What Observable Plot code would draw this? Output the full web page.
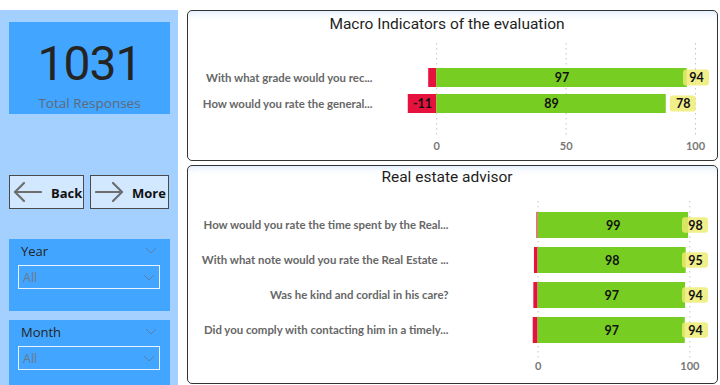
<!DOCTYPE html>
<html>
<head>
<meta charset="utf-8">
<script src="https://cdn.jsdelivr.net/npm/d3@7"></script>
<script src="https://cdn.jsdelivr.net/npm/@observablehq/plot@0.6"></script>
<style>
  html, body { margin: 0; padding: 0; }
  body { width: 720px; height: 385px; overflow: hidden; background: #fff; position: relative; font-family: Lato, "Open Sans", sans-serif; }
  .abs { position: absolute; }
  #side { left: 0; top: 10px; width: 178px; height: 375px; background: #a3d0ff; }
  #kpi { left: 9px; top: 22px; width: 161px; height: 92px; background: #42a5ff; text-align: center; }
  #kpiValue { position: absolute; left: 0; width: 161px; top: 14px; font-family: Roboto, sans-serif; font-size: 48px; line-height: 56px; color: #252423; letter-spacing: -1px; }
  #kpiLabel { position: absolute; left: 0; width: 161px; top: 72px; font-family: "Open Sans", sans-serif; font-size: 13.5px; line-height: 18px; color: #5d6a78; }
  .btn { top: 175px; height: 34px; background: #d2e8ff; border: 1.5px solid #4a4a4a; box-sizing: border-box; }
  .btn span { position: absolute; top: 8px; font-family: "Open Sans", sans-serif; font-weight: 700; font-size: 13px; color: #111; }
  .slicer { left: 9px; width: 161px; background: #42a5ff; }
  .slicer .lab { position: absolute; left: 12px; top: 3px; font-family: "Open Sans", sans-serif; font-size: 13px; color: #252423; }
  .slicer .box { position: absolute; left: 9px; top: 26px; width: 142px; height: 24px; border: 1px solid #e8f3ff; box-sizing: border-box; }
  .slicer .box span { position: absolute; left: 4px; top: 3px; font-family: "Open Sans", sans-serif; font-size: 12.5px; color: #6a7a8c; }
  .card { left: 187px; width: 531px; border: 1.5px solid #333; border-radius: 5px; box-sizing: border-box; background: #fff; box-shadow: inset 0 6px 8px -6px rgba(150,200,250,0.5); }
  .title { left: 187px; width: 520px; text-align: center; font-family: Roboto, sans-serif; font-weight: 400; font-size: 15.5px; color: #1e1e1e; }
</style>
</head>
<body>
<div id="side" class="abs"></div>
<div id="kpi" class="abs"><div id="kpiValue"></div><div id="kpiLabel"></div></div>

<div class="abs btn" style="left:9px;width:75px;">
  <svg class="abs" style="left:2px;top:5px" width="30" height="22"><g fill="none" stroke="#6e6e6e" stroke-width="2.2" stroke-linecap="round" stroke-linejoin="round"><path d="M3 11 H29"/><path d="M12 2 L3 11 L12 20"/></g></svg>
  <span style="left:41px">Back</span>
</div>
<div class="abs btn" style="left:90px;width:79px;">
  <svg class="abs" style="left:4px;top:5px" width="30" height="22"><g fill="none" stroke="#6e6e6e" stroke-width="2.2" stroke-linecap="round" stroke-linejoin="round"><path d="M1 11 H27"/><path d="M18 2 L27 11 L18 20"/></g></svg>
  <span style="left:41px">More</span>
</div>

<div class="abs slicer" style="top:239px;height:72px;">
  <div class="lab">Year</div>
  <svg class="abs" style="left:136px;top:8px" width="12" height="7"><path d="M1 1 L6 6 L11 1" fill="none" stroke="#5b7ea6" stroke-width="1"/></svg>
  <div class="box"><span>All</span>
    <svg class="abs" style="left:124px;top:8px" width="12" height="7"><path d="M1 1 L6 6 L11 1" fill="none" stroke="#5b7ea6" stroke-width="1"/></svg>
  </div>
</div>
<div class="abs slicer" style="top:320px;height:65px;">
  <div class="lab">Month</div>
  <svg class="abs" style="left:136px;top:8px" width="12" height="7"><path d="M1 1 L6 6 L11 1" fill="none" stroke="#5b7ea6" stroke-width="1"/></svg>
  <div class="box"><span>All</span>
    <svg class="abs" style="left:124px;top:8px" width="12" height="7"><path d="M1 1 L6 6 L11 1" fill="none" stroke="#5b7ea6" stroke-width="1"/></svg>
  </div>
</div>

<div class="abs card" style="top:10px;height:151px;"></div>
<div class="abs card" style="top:165px;height:219px;"></div>
<div class="abs title" style="top:15px;">Macro Indicators of the evaluation</div>
<div class="abs title" style="top:168px;">Real estate advisor</div>
<div id="chart1" class="abs" style="left:188px;top:38px;"></div>
<div id="chart2" class="abs" style="left:188px;top:196px;"></div>

<script>
// ---- data ----
const totalResponses = 1031;
const totalLabel = "Total Responses";

const macroQuestions = ["With what grade would you rec...", "How would you rate the general..."];
const macroPositive = [96.8, 88.7];
const macroNegative = [-3.1, -11];
const macroScore = [94, 78];
const macroTicks = [0, 50, 100];

const advisorQuestions = [
  "How would you rate the time spent by the Real...",
  "With what note would you rate the Real Estate ...",
  "Was he kind and cordial in his care?",
  "Did you comply with contacting him in a timely..."
];
const advisorPositive = [99.2, 97.6, 97.2, 97.0];
const advisorNegative = [-0.8, -2.4, -2.8, -3.2];
const advisorScore = [98, 95, 94, 94];
const advisorTicks = [0, 100];

document.getElementById("kpiValue").textContent = totalResponses;
document.getElementById("kpiLabel").textContent = totalLabel;

function drawChart(cfg) {
  const {questions, pos, neg, score, ticks, width, height, marginLeft, marginRight,
         marginTop, marginBottom, domain, tickPadding, labelInset, paddingInner, paddingOuter, align} = cfg;
  const rows = questions.map((q, i) => ({q, pos: pos[i], neg: neg[i], score: score[i]}));
  const xs = d3.scaleLinear(domain, [marginLeft, width - marginRight]);
  const right = width - marginRight;
  const boxW = 26, gap = 4;
  rows.forEach(r => {
    const left = Math.min(xs(r.pos) + gap, right - boxW);
    r.b1 = xs.invert(left);
    r.b2 = xs.invert(left + boxW);
  });
  return Plot.plot({
    width, height, marginLeft, marginRight, marginTop, marginBottom,
    style: {fontFamily: "Lato, 'Open Sans', sans-serif", background: "transparent", overflow: "visible", color: "#6b6b6b"},
    x: {domain},
    y: {domain: questions, paddingInner, paddingOuter, align},
    marks: [
      Plot.ruleX(ticks, {stroke: "#c4c4c4", strokeDasharray: "1.5,3.5", strokeWidth: 1}),
      Plot.barX(rows, {y: "q", x1: 0, x2: "neg", fill: "#e5123d"}),
      Plot.barX(rows, {y: "q", x1: 0, x2: "pos", fill: "#78cd22"}),
      Plot.barX(rows, {y: "q", x1: "b1", x2: "b2", fill: "#eeec70", fillOpacity: 0.82, rx: 3, insetTop: labelInset, insetBottom: labelInset}),
      Plot.text(rows, {y: "q", x: d => d.pos / 2, text: d => Math.round(d.pos), fontWeight: "bold", fontSize: 12.5, fill: "#111"}),
      Plot.text(rows.filter(d => d.neg <= -8), {y: "q", x: d => d.neg / 2, text: d => Math.round(d.neg), fontWeight: "bold", fontSize: 12.5, fill: "#111"}),
      Plot.text(rows, {y: "q", x: d => (d.b1 + d.b2) / 2, text: "score", fontWeight: "bold", fontSize: 12.5, fill: "#111"}),
      Plot.axisY({tickSize: 0, tickPadding, fontWeight: "bold", fontSize: 11.4, fill: "#676767", label: null}),
      Plot.axisX({ticks, tickSize: 0, tickPadding: 4, fontWeight: "bold", fontSize: 11, fill: "#777", label: null})
    ]
  });
}

document.getElementById("chart1").append(drawChart({
  questions: macroQuestions, pos: macroPositive, neg: macroNegative, score: macroScore, ticks: macroTicks,
  width: 529, height: 120, marginLeft: 212, marginRight: 8, marginTop: 5, marginBottom: 20,
  domain: [-14, 105.4], tickPadding: 28, labelInset: 1.5, paddingInner: 0.26, paddingOuter: 0.936, align: 0.5
}));

document.getElementById("chart2").append(drawChart({
  questions: advisorQuestions, pos: advisorPositive, neg: advisorNegative, score: advisorScore, ticks: advisorTicks,
  width: 529, height: 182, marginLeft: 342, marginRight: 9, marginTop: 5, marginBottom: 20,
  domain: [-5, 112.3], tickPadding: 82, labelInset: 5.3, paddingInner: 0.245, paddingOuter: 0.35, align: 0.42
}));
</script>
</body>
</html>
